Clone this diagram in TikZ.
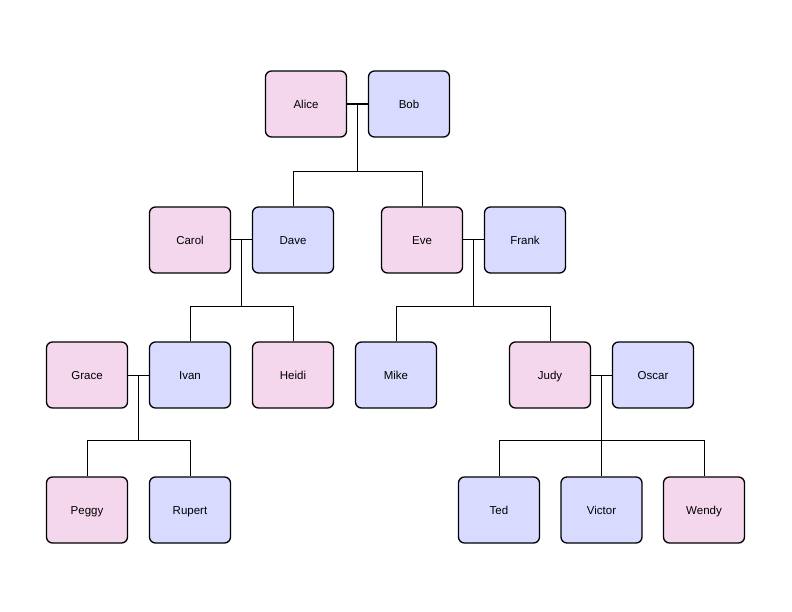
\documentclass[tikz,border=0pt]{standalone}
\usepackage{fontspec}
\setmainfont{Liberation Sans}
\usetikzlibrary{positioning,calc}
\definecolor{herfill}{RGB}{244,214,237}
\definecolor{hisfill}{RGB}{216,219,255}

\begin{document}
\begin{tikzpicture}[x=1pt,y=-1pt,
    person/.style={draw, line width=1.3pt, rounded corners=6pt, minimum width=81pt, minimum height=66pt, inner sep=0pt, text height=8.5pt, text depth=0.3pt, font=\fontsize{11.5}{13}\selectfont},
    her/.style={person, fill=herfill},
    him/.style={person, fill=hisfill},
    wed/.style={line width=2.8pt},
    kin/.style={line width=1pt}]
  \useasboundingbox (0,0) rectangle (792,612);
  % generation 1
  \node[her] (alice) at (306,104) {Alice};
  \node[him] (bob)   at (409,104) {Bob};
  % generation 2
  \node[her] (carol) at (190,240) {Carol};
  \node[him] (dave)  at (293,240) {Dave};
  \node[her] (eve)   at (422,240) {Eve};
  \node[him] (frank) at (525,240) {Frank};
  % generation 3
  \node[her] (grace) at (87,375)  {Grace};
  \node[him] (ivan)  at (190,375) {Ivan};
  \node[her] (heidi) at (293,375) {Heidi};
  \node[him] (mike)  at (396,375) {Mike};
  \node[her] (judy)  at (550,375) {Judy};
  \node[him] (oscar) at (653,375) {Oscar};
  % generation 4
  \node[her] (peggy)  at (87,510)  {Peggy};
  \node[him] (rupert) at (190,510) {Rupert};
  \node[him] (ted)    at (499,510) {Ted};
  \node[him] (victor) at (601.5,510) {Victor};
  \node[her] (wendy)  at (704,510) {Wendy};

  % couples and their children
  \draw[wed] (alice) -- (bob);
  \coordinate (ab) at ($(alice.east)!.5!(bob.west)$);
  \draw[kin] (ab) -- ++(0,67.5) coordinate (abbus);
  \draw[kin] (dave) |- (abbus) -| (eve);

  \draw[kin] (carol) -- (dave);
  \coordinate (cd) at ($(carol.east)!.5!(dave.west)$);
  \draw[kin] (cd) -- ++(0,66.5) coordinate (cdbus);
  \draw[kin] (ivan) |- (cdbus) -| (heidi);

  \draw[kin] (eve) -- (frank);
  \coordinate (ef) at ($(eve.east)!.5!(frank.west)$);
  \draw[kin] (ef) -- ++(0,66.5) coordinate (efbus);
  \draw[kin] (mike) |- (efbus) -| (judy);

  \draw[kin] (grace) -- (ivan);
  \coordinate (gi) at ($(grace.east)!.5!(ivan.west)$);
  \draw[kin] (gi) -- ++(0,65.5) coordinate (gibus);
  \draw[kin] (peggy) |- (gibus) -| (rupert);

  \draw[kin] (judy) -- (oscar);
  \coordinate (jo) at ($(judy.east)!.5!(oscar.west)$);
  \draw[kin] (jo) -- ++(0,65.5) coordinate (jobus);
  \draw[kin] (ted) |- (jobus) -| (wendy);
  \draw[kin] (jobus) -- (victor);
\end{tikzpicture}
\end{document}
